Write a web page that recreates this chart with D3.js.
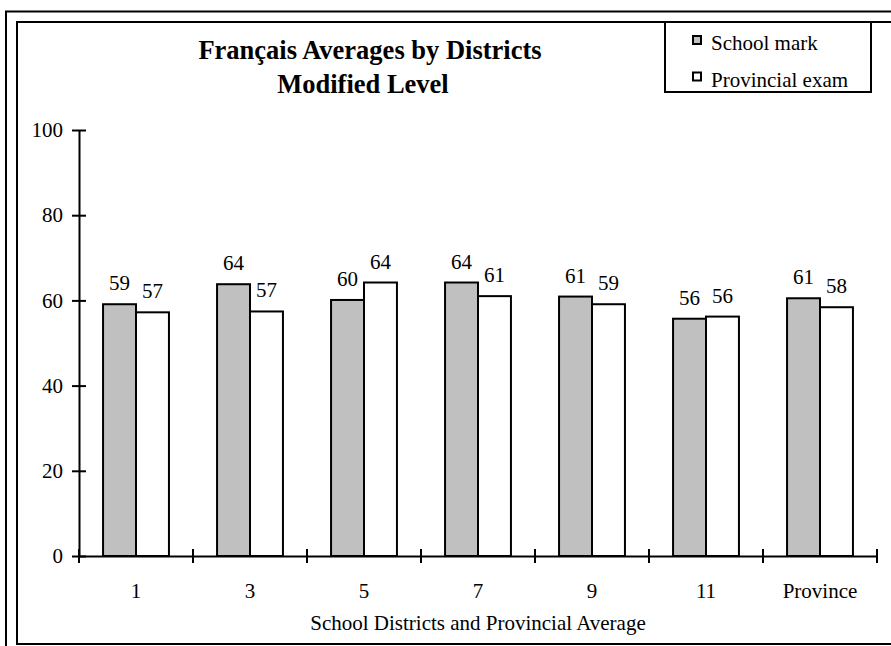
<!DOCTYPE html>
<html>
<head>
<meta charset="utf-8">
<script src="https://cdn.jsdelivr.net/npm/d3@7"></script>
<style>
  html, body { margin: 0; padding: 0; background: #fff; }
  svg { display: block; }
  text { font-family: "Liberation Serif", "Times New Roman", serif; fill: #000; }
</style>
</head>
<body>
<svg id="chart" width="891" height="646"></svg>
<script>
// ---- data ----
const categories = ["1", "3", "5", "7", "9", "11", "Province"];
const seriesNames = ["School mark", "Provincial exam"];
const schoolMark = [59.1, 63.8, 60.1, 64.2, 60.9, 55.7, 60.5];
const provincialExam = [57.2, 57.4, 64.2, 61.0, 59.1, 56.2, 58.4];
const yTicks = [0, 20, 40, 60, 80, 100];
const titleLines = ["Français Averages by Districts", "Modified Level"];
const xTitle = "School Districts and Provincial Average";

const seriesValues = [schoolMark, provincialExam];
const seriesFill = ["#c0c0c0", "#ffffff"];

const svg = d3.select("#chart");
svg.append("rect").attr("width", 891).attr("height", 646).attr("fill", "#fff");

// frames (right side runs past the picture edge)
svg.append("rect").attr("x", 6).attr("y", 11.5).attr("width", 1000).attr("height", 1000)
  .attr("fill", "none").attr("stroke", "#000").attr("stroke-width", 2);
svg.append("rect").attr("x", 17).attr("y", 22).attr("width", 1000).attr("height", 622)
  .attr("fill", "none").attr("stroke", "#000").attr("stroke-width", 2);

// scales
const plotLeft = 79, plotRight = 877, plotTop = 130, plotBottom = 556;
const x = d3.scaleBand().domain(categories).range([plotLeft, plotRight]).paddingInner(0).paddingOuter(0);
const x1 = d3.scaleBand().domain(seriesNames).range([0, x.bandwidth()]).paddingInner(0).paddingOuter(0.73);
const y = d3.scaleLinear().domain([0, 100]).range([plotBottom, plotTop]);

// bars
const rows = categories.map((c, i) => ({ cat: c, vals: seriesNames.map((s, j) => ({ s, j, v: seriesValues[j][i] })) }));
const groups = svg.append("g").selectAll("g").data(rows).join("g")
  .attr("transform", d => `translate(${x(d.cat)},0)`);
groups.selectAll("rect").data(d => d.vals).join("rect")
  .attr("x", d => x1(d.s))
  .attr("y", d => y(d.v))
  .attr("width", x1.bandwidth())
  .attr("height", d => y(0) - y(d.v))
  .attr("fill", d => seriesFill[d.j])
  .attr("stroke", "#000").attr("stroke-width", 2);
groups.selectAll("text").data(d => d.vals).join("text")
  .attr("x", d => x1(d.s) + x1.bandwidth() / 2)
  .attr("y", d => y(d.v) - 14)
  .attr("text-anchor", "middle")
  .attr("font-size", 21)
  .text(d => Math.round(d.v));

// y axis
const yAxis = svg.append("g").attr("transform", `translate(${plotLeft},0)`)
  .call(d3.axisLeft(y).tickValues(yTicks).tickFormat(d3.format("d")).tickSize(0).tickSizeOuter(0).tickPadding(16));
yAxis.select(".domain").attr("stroke", "#000").attr("stroke-width", 2);
yAxis.selectAll(".tick line").remove();
yAxis.selectAll(".tick").append("line").attr("x1", -7).attr("x2", 7).attr("stroke", "#000").attr("stroke-width", 2);
yAxis.selectAll(".tick text").attr("font-size", 21).attr("font-family", "Liberation Serif").attr("fill", "#000");

// x axis
const xAxis = svg.append("g").attr("transform", `translate(0,${plotBottom})`)
  .call(d3.axisBottom(x).tickSize(0).tickSizeOuter(0).tickPadding(27));
xAxis.select(".domain").attr("stroke", "#000").attr("stroke-width", 2);
xAxis.selectAll(".tick text").attr("font-size", 21).attr("font-family", "Liberation Serif").attr("fill", "#000");
const boundaries = categories.map(c => x(c)).concat([x.range()[1]]);
xAxis.selectAll(".bound").data(boundaries).join("line").attr("class", "bound")
  .attr("x1", d => d).attr("x2", d => d).attr("y1", -7).attr("y2", 7)
  .attr("stroke", "#000").attr("stroke-width", 2);

// x title
svg.append("text").attr("x", (plotLeft + plotRight) / 2).attr("y", 630)
  .attr("text-anchor", "middle").attr("font-size", 21).text(xTitle);

// title
const titleX = [370, 363];
svg.append("g").selectAll("text").data(titleLines).join("text")
  .attr("x", (d, i) => titleX[i]).attr("y", (d, i) => 59 + i * 34)
  .attr("text-anchor", "middle").attr("font-size", 26.5).attr("font-weight", "bold")
  .text(d => d);

// legend
svg.append("rect").attr("x", 665).attr("y", 22).attr("width", 206).attr("height", 70)
  .attr("fill", "#fff").attr("stroke", "#000").attr("stroke-width", 2);
const leg = svg.append("g").selectAll("g").data(seriesNames).join("g")
  .attr("transform", (d, i) => `translate(0,${i * 36.5})`);
leg.append("rect").attr("x", 693).attr("y", 36).attr("width", 8).attr("height", 8)
  .attr("fill", (d, i) => seriesFill[i]).attr("stroke", "#000").attr("stroke-width", 2);
leg.append("text").attr("x", 711).attr("y", 50).attr("font-size", 21).text(d => d);
</script>
</body>
</html>
